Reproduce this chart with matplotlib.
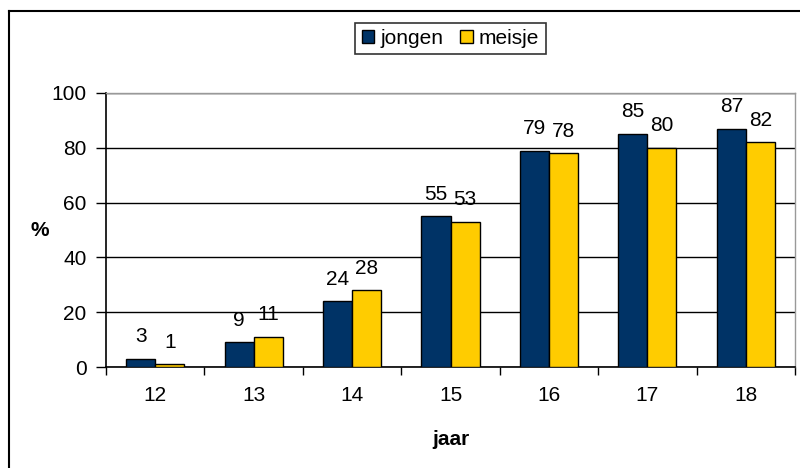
import numpy as np
import matplotlib.pyplot as plt
from matplotlib.lines import Line2D

# data
jaar = ['12', '13', '14', '15', '16', '17', '18']
jongen = [3, 9, 24, 55, 79, 85, 87]
meisje = [1, 11, 28, 53, 78, 80, 82]

plt.rcParams['font.family'] = ['Liberation Sans', 'DejaVu Sans']
fs = 15

fig = plt.figure(figsize=(8, 4.68), dpi=100)
ax = fig.add_axes([0.1325, 0.2158, 0.8613, 0.5855])

x = np.arange(len(jaar))
w = 0.295
b1 = ax.bar(x - w/2, jongen, w, color='#003366', edgecolor='black', linewidth=1, label='jongen', zorder=3)
b2 = ax.bar(x + w/2, meisje, w, color='#FFCC00', edgecolor='black', linewidth=1, label='meisje', zorder=3)

# value labels above bars
for bars, vals in [(b1, jongen), (b2, meisje)]:
    for r, v in zip(bars, vals):
        ax.annotate(str(v), (r.get_x() + r.get_width()/2, v), xytext=(0, 12),
                    textcoords='offset points', ha='center', va='baseline', fontsize=fs)

ax.set_xlim(-0.5, len(jaar) - 0.5)
ax.set_ylim(0, 100)
ax.set_yticks([0, 20, 40, 60, 80, 100])
ax.yaxis.grid(True, color='black', linewidth=1, zorder=0)

# tick marks between categories, labels in the middle
ax.set_xticks(np.arange(-0.5, len(jaar)), minor=False)
ax.set_xticklabels([])
ax.set_xticks(x, minor=True)
ax.set_xticklabels(jaar, minor=True)
ax.tick_params(axis='x', which='major', length=6, width=1, direction='out')
ax.tick_params(axis='x', which='minor', length=0, pad=14, labelsize=fs)
ax.tick_params(axis='y', length=7, width=1, pad=7, labelsize=fs)

for s in ['left', 'bottom']:
    ax.spines[s].set_color('black')
    ax.spines[s].set_linewidth(1.2)
for s in ['top', 'right']:
    ax.spines[s].set_color('#999999')
    ax.spines[s].set_linewidth(1)

ax.set_xlabel('jaar', fontsize=fs, fontweight='bold', labelpad=18)
fig.text(40/800, 1 - 230/468, '%', fontsize=fs, fontweight='bold', ha='center', va='center')

leg = ax.legend(loc='lower center', bbox_to_anchor=(0.5, 1.142), ncol=2, fontsize=fs,
                frameon=True, fancybox=False, edgecolor='black', handlelength=0.6,
                handleheight=0.6, handletextpad=0.3, columnspacing=0.8,
                borderpad=0.3, borderaxespad=0)
leg.get_frame().set_linewidth(1.2)

# outer frame of the chart (left and top visible)
fig.add_artist(Line2D([9/800, 9/800], [0, 1 - 11/468], color='black', linewidth=1.5))
fig.add_artist(Line2D([9/800, 1], [1 - 11/468, 1 - 11/468], color='black', linewidth=1.5))

fig.savefig('out.png', dpi=100)
